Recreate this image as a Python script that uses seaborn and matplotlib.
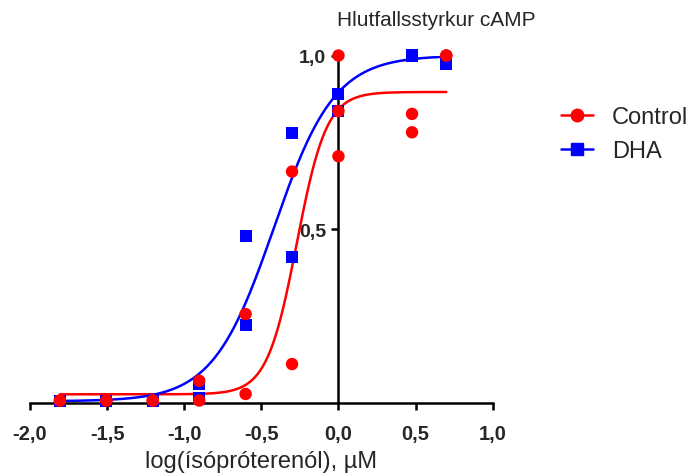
import numpy as np
import pandas as pd
import matplotlib
matplotlib.use("Agg")
import matplotlib.pyplot as plt
from matplotlib.lines import Line2D
import seaborn as sns

sns.set_style("white")
plt.rcParams['font.family'] = ['Liberation Sans', 'DejaVu Sans']

# ---- data (log concentration, µM) ----
x_control = [-1.806, -1.806, -1.505, -1.505, -1.204, -1.204, -0.903, -0.903,
             -0.602, -0.602, -0.301, -0.301, 0.0, 0.0, 0.0, 0.477, 0.477, 0.699, 0.699]
y_control = [0.007, 0.007, 0.007, 0.007, 0.007, 0.007, 0.064, 0.007,
             0.256, 0.026, 0.666, 0.112, 1.0, 0.71, 0.84, 0.832, 0.779, 1.0, 1.0]

x_dha = [-1.806, -1.806, -1.505, -1.505, -1.204, -1.204, -0.903, -0.903,
         -0.602, -0.602, -0.301, -0.301, 0.0, 0.0, 0.477, 0.477, 0.699, 0.699]
y_dha = [0.007, 0.007, 0.007, 0.007, 0.007, 0.007, 0.055, 0.013,
         0.48, 0.224, 0.777, 0.419, 0.889, 0.841, 1.0, 1.0, 0.976, 0.976]

# fitted sigmoid parameters (bottom, top, logEC50, hill)
fit_control = (0.025, 0.895, -0.27, 4.5)
fit_dha = (0.005, 1.0, -0.42, 2.2)
fit_range = (-1.806, 0.699)

x_ticks = [-2.0, -1.5, -1.0, -0.5, 0.0, 0.5, 1.0]
x_ticklabels = ["-2,0", "-1,5", "-1,0", "-0,5", "0,0", "0,5", "1,0"]
y_ticks = [0.5, 1.0]
y_ticklabels = ["0,5", "1,0"]

RED = "#ff0000"
BLUE = "#0000ff"


def curve(params):
    b, t, ec, h = params
    xs = np.linspace(fit_range[0], fit_range[1], 300)
    ys = b + (t - b) / (1 + 10 ** ((ec - xs) * h))
    return pd.DataFrame({"x": xs, "y": ys})


fig = plt.figure(figsize=(6.97, 4.77), dpi=100)
ax = fig.add_axes([30 / 697, (477 - 404) / 477, 462.7 / 697, 347.5 / 477])

cc = curve(fit_control)
cd = curve(fit_dha)
sns.lineplot(data=cc, x="x", y="y", ax=ax, color=RED, lw=1.8, zorder=3)
sns.lineplot(data=cd, x="x", y="y", ax=ax, color=BLUE, lw=1.8, zorder=3)

sns.scatterplot(x=x_dha, y=y_dha, ax=ax, marker="s", s=75, color=BLUE,
                edgecolor="none", clip_on=False, zorder=4)
sns.scatterplot(x=x_control, y=y_control, ax=ax, marker="o", s=80, color=RED,
                edgecolor="none", clip_on=False, zorder=5)

ax.set_xlim(-2, 1)
ax.set_ylim(0, 1)
ax.spines['left'].set_position(('data', 0))
ax.spines['bottom'].set_position(('data', 0))
ax.spines['top'].set_visible(False)
ax.spines['right'].set_visible(False)
for s in ['left', 'bottom']:
    ax.spines[s].set_linewidth(1.8)
    ax.spines[s].set_color('black')
    ax.spines[s].set_zorder(2)

ax.set_xticks(x_ticks)
ax.set_xticklabels(x_ticklabels, fontsize=14.5, fontweight='bold')
ax.set_yticks(y_ticks)
ax.set_yticklabels(y_ticklabels, fontsize=14, fontweight='bold')
ax.tick_params(axis='both', direction='out', length=5, width=1.8, color='black')
ax.tick_params(axis='x', pad=10, bottom=True)
ax.tick_params(axis='y', pad=4, left=True)
ax.set_xlabel("log(ísópróterenól), µM", fontsize=17, labelpad=5)
ax.set_ylabel("")
ax.grid(False)

fig.text(436 / 697, 1 - 20 / 477, "Hlutfallsstyrkur cAMP", fontsize=15,
         ha='center', va='center')

handles = [Line2D([], [], color=RED, lw=1.8, marker='o', markersize=9),
           Line2D([], [], color=BLUE, lw=1.8, marker='s', markersize=8.5)]
fig.legend(handles, ["Control", "DHA"], loc='center left',
           bbox_to_anchor=(561 / 697, 1 - 135 / 477), frameon=False,
           borderpad=0, borderaxespad=0,
           fontsize=17, handlelength=1.35, handletextpad=0.8, labelspacing=0.5)

fig.savefig("out.png", dpi=100)
